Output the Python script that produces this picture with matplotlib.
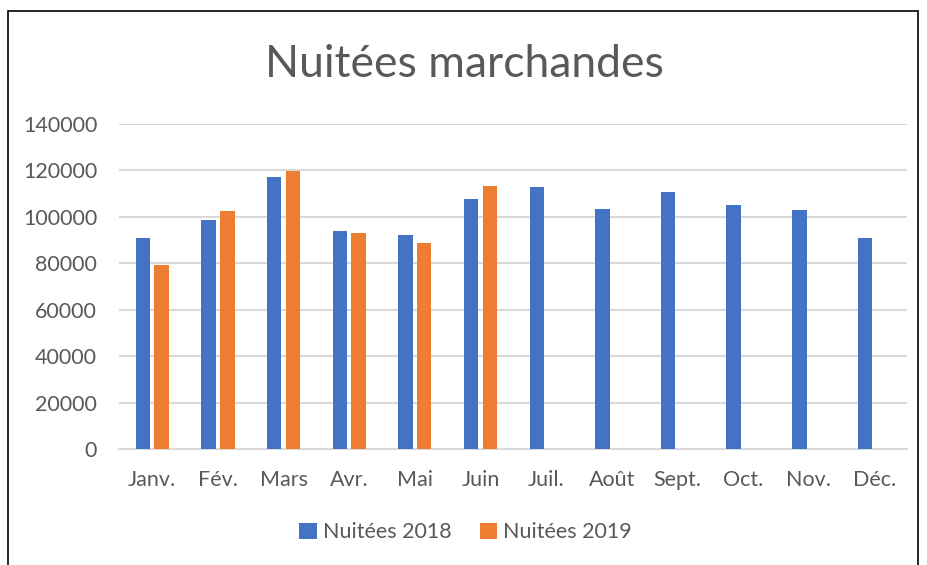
import matplotlib
matplotlib.use("Agg")
import matplotlib.pyplot as plt
from matplotlib.patches import Rectangle
import numpy as np

months = ["Janv.", "Fév.", "Mars", "Avr.", "Mai", "Juin",
          "Juil.", "Août", "Sept.", "Oct.", "Nov.", "Déc."]
nuitees_2018 = [91000, 98800, 117200, 94000, 92300, 107800,
                112700, 103500, 110800, 105000, 102900, 91000]
nuitees_2019 = [79400, 102400, 119600, 93200, 88600, 113300]
yticks = [0, 20000, 40000, 60000, 80000, 100000, 120000, 140000]

BLUE = "#4472C4"
ORANGE = "#ED7D31"
GREY = "#595959"
GRID = "#D9D9D9"

plt.rcParams["font.family"] = ["Lato", "DejaVu Sans"]

fig = plt.figure(figsize=(9.28, 5.65), dpi=100)
ax = fig.add_axes([0.1287, 0.2053, 0.8489, 0.5752])

x = np.arange(len(months))
w = 0.22
off = 0.143
ax.bar(x - off, nuitees_2018, width=w, color=BLUE, label="Nuitées 2018", zorder=3)
x19 = np.arange(len(nuitees_2019))
ax.bar(x19 + off, nuitees_2019, width=w, color=ORANGE, label="Nuitées 2019", zorder=3)

ax.set_xlim(-0.5, len(months) - 0.5)
ax.set_ylim(0, 140000)
ax.set_yticks(yticks)
ax.set_yticklabels([str(v) for v in yticks])
ax.set_xticks(x)
ax.set_xticklabels(months)
ax.tick_params(axis="both", length=0, labelsize=15.5, colors=GREY)
ax.tick_params(axis="y", pad=16)
ax.tick_params(axis="x", pad=15)
ax.grid(axis="y", color=GRID, lw=1.5, zorder=0)
for s in ["top", "right", "left"]:
    ax.spines[s].set_visible(False)
ax.spines["bottom"].set_color(GRID)
ax.spines["bottom"].set_linewidth(1.5)

fig.text(0.5, 0.885, "Nuitées marchandes", ha="center", va="center",
         fontsize=32, color=GREY)

leg = fig.legend(loc="center", bbox_to_anchor=(0.502, 0.058), ncol=2, frameon=False,
                 fontsize=15.5, handlelength=0.8, handleheight=0.8,
                 columnspacing=1.3, handletextpad=0.3)
for t in leg.get_texts():
    t.set_color(GREY)

fig.add_artist(Rectangle((7.5 / 928, -0.1), (918 - 7.5) / 928, 1.1 - 10.5 / 565,
                         transform=fig.transFigure, fill=False, ec="black", lw=1.2))

fig.savefig("out.png", dpi=100)
plt.close(fig)
